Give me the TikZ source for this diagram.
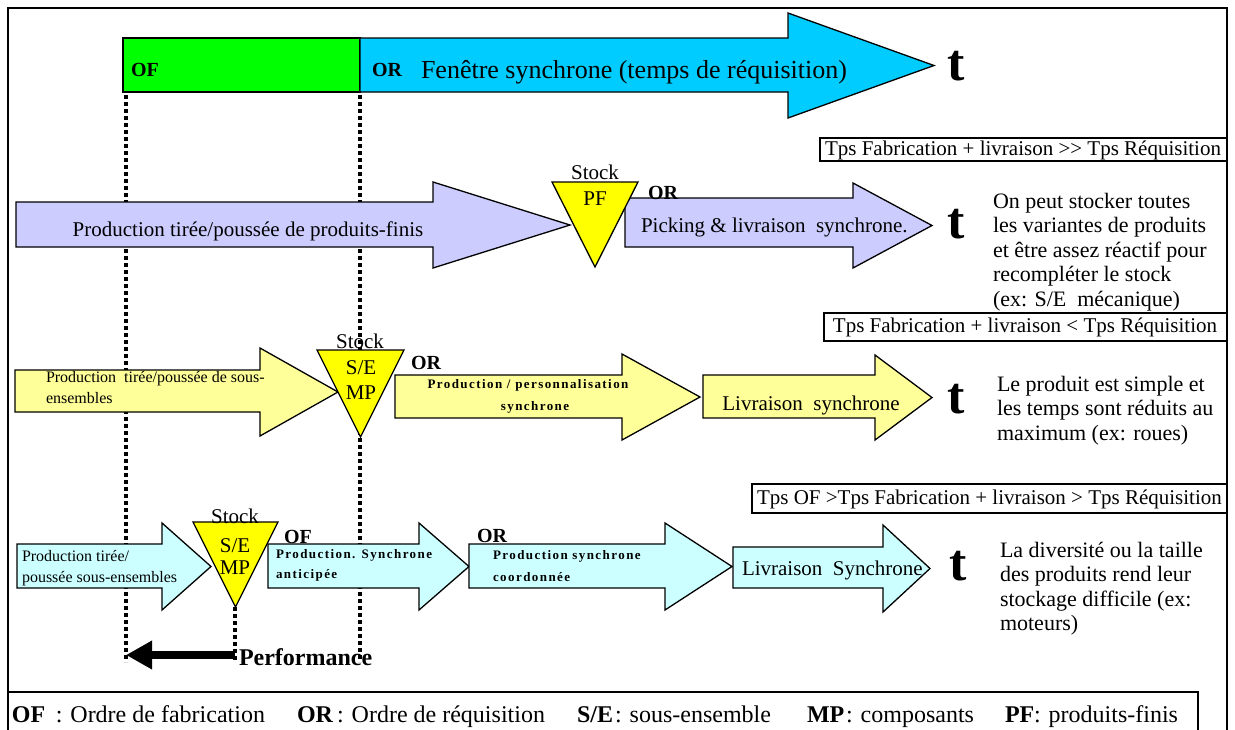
\documentclass[tikz,border=0pt]{standalone}
\usepackage{fontspec}
\setmainfont{Liberation Serif}
\newfontfamily\spacedfont[LetterSpace=11]{Liberation Serif}
\usetikzlibrary{arrows.meta}

\definecolor{ofgreen}{HTML}{00FF00}
\definecolor{orcyan}{HTML}{00CCFF}
\definecolor{pflavender}{HTML}{CCCCFF}
\definecolor{seyellow}{HTML}{FFFF99}
\definecolor{stockyellow}{HTML}{FFFF00}
\definecolor{palecyan}{HTML}{CCFFFF}

% block arrow: style, x left, x head base, x tip, shaft top, shaft bottom, head top, head bottom
\newcommand\shaftarrow[8]{%
  \filldraw[#1] (#2,#5) -- (#3,#5) -- (#3,#7) -- (#4,{(#7+#8)/2}) -- (#3,#8) -- (#3,#6) -- (#2,#6) -- cycle;}
% inverted stock triangle: left x, right x, top y, bottom y
\newcommand\stocktriangle[4]{%
  \filldraw[stocktri] (#1,#3) -- (#2,#3) -- ({(#1+#2)/2},#4) -- cycle;}

\tikzset{
  every node/.style={inner sep=0pt, outer sep=0pt},
  frame/.style={draw=black, line width=1.3pt},
  blockarrow/.style={draw=black, line width=1.3pt, line join=miter},
  stocktri/.style={draw=black, line width=1.3pt, fill=stockyellow, line join=miter},
  guide/.style={line width=3.5pt, dash pattern=on 4pt off 3pt},
  perfarrow/.style={line width=8pt, -{Triangle[width=27pt,length=26pt]}},
  ordertag/.style={font=\fontsize{20}{24}\selectfont\bfseries, anchor=west},
  tmark/.style={font=\fontsize{52}{56}\selectfont\bfseries},
  body/.style={font=\fontsize{21}{24}\selectfont},
  stocklbl/.style={font=\fontsize{21}{24}\selectfont},
  smallbody/.style={font=\fontsize{16}{21}\selectfont, align=left, anchor=north west},
  spaced/.style={font=\fontsize{13}{15}\selectfont\spacedfont\bfseries},
  note/.style={font=\fontsize{22}{24.5}\selectfont, align=left, anchor=north west},
  legendbf/.style={font=\fontsize{24}{28}\selectfont\bfseries, anchor=base west},
  legendtxt/.style={font=\fontsize{24}{28}\selectfont, anchor=base east},
}

\begin{document}
\begin{tikzpicture}[x=1pt,y=-1pt]
\clip (0,0) rectangle (1235,729);
\fill[white] (0,0) rectangle (1235,729);

% outer frame and legend strip
\draw[frame] (8,8) rectangle (1227,745);
\draw[frame] (8,692) rectangle (1198,745);

% performance gain
\node[font=\fontsize{24}{28}\selectfont\bfseries, anchor=west] (perf) at (239,657) {Performance};
\coordinate (perfstart) at (235,655);
\coordinate (perfend) at (126,655);
\draw[perfarrow] (perfstart) -- (perfend);

% dotted time markers
\coordinate (ofTop) at (126,95);   \coordinate (ofBot) at (126,662);
\coordinate (orTop) at (360,95);   \coordinate (orBot) at (360,662);
\coordinate (seTop) at (235,607);  \coordinate (seBot) at (235,662);
\draw[guide] (ofTop) -- (ofBot);
\draw[guide] (orTop) -- (orBot);
\draw[guide] (seTop) -- (seBot);

% time window bar
\filldraw[blockarrow, fill=ofgreen] (123,38) rectangle (360,92);
\shaftarrow{blockarrow, fill=orcyan}{360}{788}{934}{38}{92}{13}{118}
\node[ordertag] (barOF) at (131,70) {OF};
\node[ordertag] (barOR) at (372,70) {OR};
\node[font=\fontsize{26}{30}\selectfont, anchor=west] (window) at (421,72) {Fenêtre synchrone (temps de réquisition)};
\node[tmark] (t0) at (956,66) {t};

% case 1: finished products in stock
\draw[frame, line width=1.1pt] (820,138) rectangle (1227,161);
\node[body] (cond1) at (1023,150) {Tps Fabrication + livraison {>}{>} Tps Réquisition};
\shaftarrow{blockarrow, fill=pflavender}{16}{433}{570}{202}{247}{182}{268}
\node[body] (r1a) at (248,231) {Production tirée/poussée de produits-finis};
\shaftarrow{blockarrow, fill=pflavender}{625}{853}{932}{198}{247}{183}{268}
\node[body, anchor=west] (r1b) at (641,227) {Picking \& livraison\ \ synchrone.};
\stocktriangle{552}{638}{182}{267}
\node[stocklbl] (r1stock) at (595,172) {Stock};
\node[stocklbl] (r1pf) at (595,199) {PF};
\node[ordertag] (r1or) at (648,193) {OR};
\node[tmark] (t1) at (956,224) {t};
\node[note] (note1) at (993,193) {On peut stocker toutes\\les variantes de produits\\et être assez réactif pour\\recompléter le stock\\(ex: S/E\ \ mécanique)};

% case 2: sub-assemblies in stock
\draw[frame, line width=1.1pt] (824,313) rectangle (1227,341);
\node[body] (cond2) at (1025,327) {Tps Fabrication + livraison < Tps Réquisition};
\shaftarrow{blockarrow, fill=seyellow}{15}{260}{338}{370}{412}{348}{436}
\node[smallbody] (r2a) at (46,371) {Production\ \ tirée/poussée de sous-\\ensembles};
\shaftarrow{blockarrow, fill=seyellow}{395}{622}{700}{375}{418}{354}{440}
\node[spaced] (r2b1) at (528,385) {Production / personnalisation};
\node[spaced] (r2b2) at (535,407) {synchrone};
\shaftarrow{blockarrow, fill=seyellow}{703}{875}{932}{375}{418}{355}{440}
\node[body] (r2c) at (811,405) {Livraison\ \ synchrone};
\stocktriangle{317}{404}{350}{437}
\node[stocklbl] (r2stock) at (360,341) {Stock};
\node[stocklbl] (r2se) at (361,368) {S/E};
\node[stocklbl] (r2mp) at (361,393) {MP};
\node[ordertag] (r2or) at (411,363) {OR};
\node[tmark] (t2) at (956,399) {t};
\node[note] (note2) at (997,376) {Le produit est simple et\\les temps sont réduits au\\maximum (ex: roues)};

% case 3: anticipated and coordinated production
\begin{scope}
  \clip (0,0) rectangle (1227,729);
  \draw[frame, line width=1.1pt] (752,484) rectangle (1240,513);
  \node[body, anchor=west] (cond3) at (757,499) {Tps OF >Tps Fabrication + livraison > Tps Réquisition};
\end{scope}
\shaftarrow{blockarrow, fill=palecyan}{17}{162}{211}{544}{588}{523}{610}
\node[smallbody] (r3a) at (22,550) {Production tirée/\\poussée sous-ensembles};
\shaftarrow{blockarrow, fill=palecyan}{268}{419}{469}{544}{588}{523}{610}
\node[spaced, anchor=west] (r3b1) at (276,555) {Production. Synchrone};
\node[spaced, anchor=west] (r3b2) at (276,575) {anticipée};
\shaftarrow{blockarrow, fill=palecyan}{469}{665}{732}{544}{588}{523}{610}
\node[spaced, anchor=west] (r3c1) at (493,556) {Production synchrone};
\node[spaced, anchor=west] (r3c2) at (493,577) {coordonnée};
\shaftarrow{blockarrow, fill=palecyan}{733}{883}{930}{547}{588}{525}{612}
\node[body, anchor=west] (r3d) at (742,570) {Livraison\ \ Synchrone};
\stocktriangle{193}{278}{522}{607}
\node[stocklbl] (r3stock) at (235,516) {Stock};
\node[stocklbl] (r3se) at (235,546) {S/E};
\node[stocklbl] (r3mp) at (235,568) {MP};
\node[ordertag] (r3of) at (284,537) {OF};
\node[ordertag] (r3or) at (477,536) {OR};
\node[tmark] (t3) at (958,566) {t};
\node[note] (note3) at (1000,542) {La diversité ou la taille\\des produits rend leur\\stockage difficile (ex:\\moteurs)};

% legend
\node[legendbf] (kOF) at (12,722) {OF};
\node[legendtxt] (vOF) at (265,722) {: Ordre de fabrication};
\node[legendbf] (kOR) at (297,722) {OR};
\node[legendtxt] (vOR) at (545,722) {: Ordre de réquisition};
\node[legendbf] (kSE) at (577,722) {S/E};
\node[legendtxt] (vSE) at (771,722) {: sous-ensemble};
\node[legendbf] (kMP) at (807,722) {MP};
\node[legendtxt] (vMP) at (974,722) {: composants};
\node[legendbf] (kPF) at (1005,722) {PF};
\node[legendtxt] (vPF) at (1178,722) {: produits-finis};
\end{tikzpicture}
\end{document}
